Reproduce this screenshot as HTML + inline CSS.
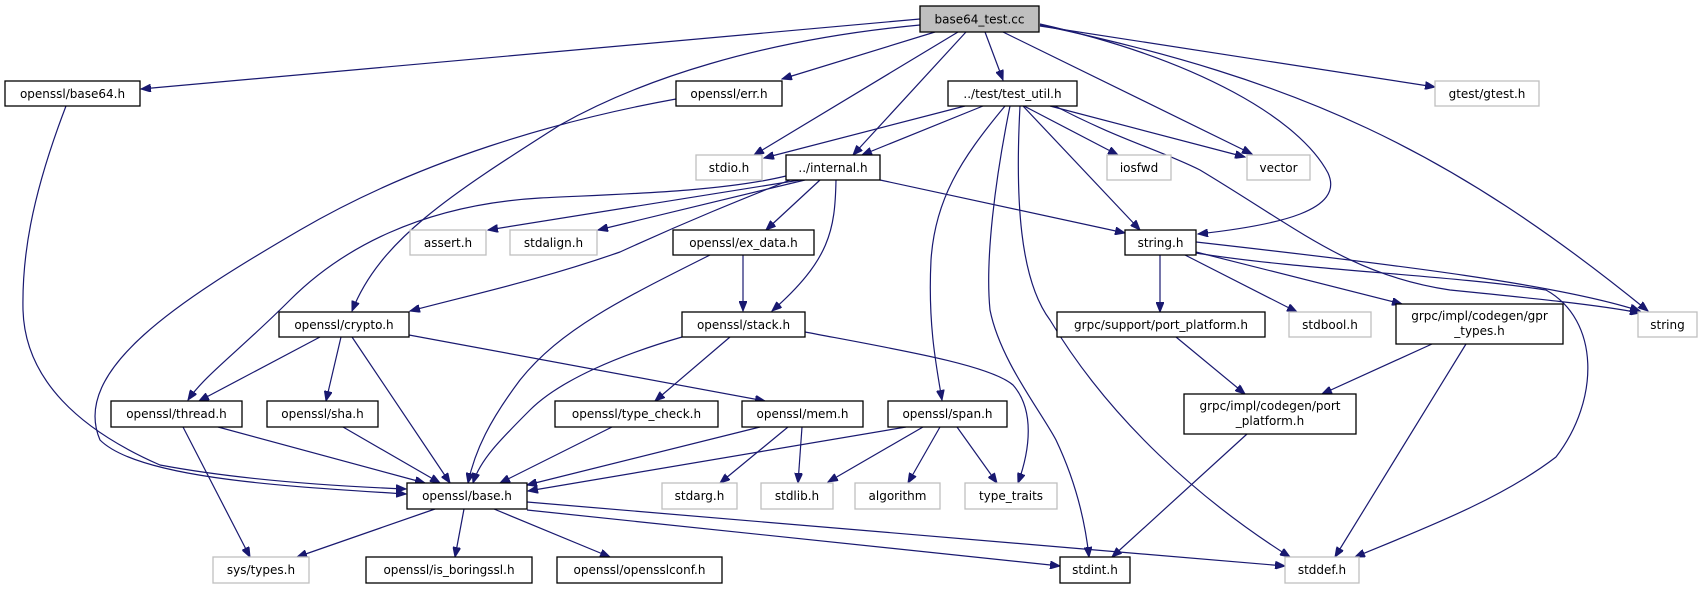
<!DOCTYPE html>
<html><head><meta charset="utf-8"><style>
html,body{margin:0;padding:0;background:#fff;}
svg{display:block;}
text{font-family:"DejaVu Sans","Liberation Sans",sans-serif;font-size:12px;fill:#000;}
.e{fill:none;stroke:#191970;stroke-width:1.2;marker-end:url(#a);}
.n{fill:#fff;stroke:#000;stroke-width:1.3;}
.g{fill:#fff;stroke:#bfbfbf;stroke-width:1.3;}
</style></head><body>
<svg width="1702" height="589" viewBox="0 0 1702 589" xmlns="http://www.w3.org/2000/svg">
<defs><marker id="a" markerWidth="11" markerHeight="8" refX="10" refY="4" orient="auto" markerUnits="userSpaceOnUse"><path d="M0,0 L10,4 L0,8 z" fill="#191970" stroke="#191970"/></marker></defs>
<path class="e" d="M920,19 L141,89"/>
<path class="e" d="M935,32 L782,79"/>
<path class="e" d="M920,25 C760,40 640,80 560,125 C450,195 380,240 352,311"/>
<path class="e" d="M958,32 L754,155"/>
<path class="e" d="M966,32 L853,155"/>
<path class="e" d="M985,32 L1003,80"/>
<path class="e" d="M1003,32 L1252,154"/>
<path class="e" d="M1040,24 C1200,60 1300,120 1328,173 C1345,210 1280,225 1198,234"/>
<path class="e" d="M1040,25 C1300,80 1450,150 1648,311"/>
<path class="e" d="M1040,26 L1435,87"/>
<path class="e" d="M965,106 L764,158"/>
<path class="e" d="M983,106 L862,155"/>
<path class="e" d="M1024,106 L1118,155"/>
<path class="e" d="M1050,106 L1245,157"/>
<path class="e" d="M1023,106 L1140,230"/>
<path class="e" d="M1055,106 C1120,140 1160,150 1200,170 C1300,230 1350,275 1450,290 C1530,298 1600,305 1640,313"/>
<path class="e" d="M1005,106 C960,160 935,200 931,260 C928,320 935,360 942,400"/>
<path class="e" d="M1010,106 C995,180 985,260 990,310 C1000,360 1040,410 1056,440 C1075,480 1085,520 1089,557"/>
<path class="e" d="M1020,106 C1015,200 1020,280 1050,320 C1110,420 1200,500 1290,557"/>
<path class="e" d="M800,180 L488,230"/>
<path class="e" d="M805,180 L598,230"/>
<path class="e" d="M820,180 L766,230"/>
<path class="e" d="M836,180 C835,230 830,260 772,311"/>
<path class="e" d="M880,180 L1125,233"/>
<path class="e" d="M790,180 C740,200 690,220 620,252 C540,280 470,295 410,311"/>
<path class="e" d="M786,176 C720,192 620,194 540,198 C420,205 340,250 290,300 C240,350 205,375 188,400"/>
<path class="e" d="M676,99 C560,120 420,160 300,230 C180,300 70,370 100,440 C140,480 300,487 406,494"/>
<path class="e" d="M66,106 C30,200 22,260 23,310 C25,380 80,430 160,465 C240,480 330,486 406,489"/>
<path class="e" d="M743,255 L743,311"/>
<path class="e" d="M710,255 C620,300 560,330 520,380 C490,420 475,450 468,483"/>
<path class="e" d="M320,337 L199,401"/>
<path class="e" d="M341,337 L326,401"/>
<path class="e" d="M352,337 L450,483"/>
<path class="e" d="M409,335 L765,401"/>
<path class="e" d="M682,337 C620,355 560,380 530,410 C500,440 480,460 473,483"/>
<path class="e" d="M730,337 L655,401"/>
<path class="e" d="M805,332 C900,350 990,365 1013,385 C1035,410 1030,450 1018,483"/>
<path class="e" d="M218,427 L425,483"/>
<path class="e" d="M183,427 L250,557"/>
<path class="e" d="M343,427 L440,483"/>
<path class="e" d="M612,427 L500,483"/>
<path class="e" d="M760,427 L527,485"/>
<path class="e" d="M788,427 L720,483"/>
<path class="e" d="M802,427 L798,483"/>
<path class="e" d="M906,427 L528,491"/>
<path class="e" d="M923,427 L828,482"/>
<path class="e" d="M940,427 L908,483"/>
<path class="e" d="M957,427 L997,483"/>
<path class="e" d="M435,509 L297,557"/>
<path class="e" d="M464,509 L455,557"/>
<path class="e" d="M494,509 L610,557"/>
<path class="e" d="M527,510 L1060,566"/>
<path class="e" d="M527,502 L1285,566"/>
<path class="e" d="M1160,255 L1160,312"/>
<path class="e" d="M1185,255 L1297,312"/>
<path class="e" d="M1196,252 L1402,304"/>
<path class="e" d="M1196,242 C1400,265 1560,285 1640,311"/>
<path class="e" d="M1196,253 C1300,270 1450,275 1546,290 C1600,320 1600,400 1556,457 C1500,500 1420,530 1355,557"/>
<path class="e" d="M1176,337 L1245,394"/>
<path class="e" d="M1432,344 L1322,394"/>
<path class="e" d="M1466,344 L1335,557"/>
<path class="e" d="M1247,434 L1112,557"/>
<g text-anchor="middle">
<rect x="920" y="6" width="119" height="26" fill="#bfbfbf" stroke="#000" stroke-width="1.3"/><text x="979.5" y="23.5">base64_test.cc</text>
<rect class="n" x="5" y="81" width="135" height="25"/><text x="72.5" y="98">openssl/base64.h</text>
<rect class="n" x="676" y="81" width="106" height="25"/><text x="729" y="98">openssl/err.h</text>
<rect class="n" x="948" y="81" width="129" height="25"/><text x="1012.5" y="98">../test/test_util.h</text>
<rect class="g" x="1435" y="81" width="104" height="25"/><text x="1487" y="98">gtest/gtest.h</text>
<rect class="g" x="696" y="155" width="66" height="25"/><text x="729" y="172">stdio.h</text>
<rect class="n" x="786" y="155" width="94" height="25"/><text x="833" y="172">../internal.h</text>
<rect class="g" x="1107" y="155" width="64" height="25"/><text x="1139" y="172">iosfwd</text>
<rect class="g" x="1247" y="155" width="63" height="25"/><text x="1278.5" y="172">vector</text>
<rect class="g" x="410" y="230" width="76" height="25"/><text x="448" y="247">assert.h</text>
<rect class="g" x="510" y="230" width="87" height="25"/><text x="553.5" y="247">stdalign.h</text>
<rect class="n" x="673" y="230" width="141" height="25"/><text x="743.5" y="247">openssl/ex_data.h</text>
<rect class="n" x="1125" y="230" width="71" height="25"/><text x="1160.5" y="247">string.h</text>
<rect class="n" x="279" y="312" width="130" height="25"/><text x="344" y="329">openssl/crypto.h</text>
<rect class="n" x="682" y="312" width="123" height="25"/><text x="743.5" y="329">openssl/stack.h</text>
<rect class="n" x="1057" y="312" width="208" height="25"/><text x="1161" y="329">grpc/support/port_platform.h</text>
<rect class="g" x="1289" y="312" width="82" height="25"/><text x="1330" y="329">stdbool.h</text>
<rect class="n" x="1396" y="304" width="167" height="40"/><text x="1479.5" y="320">grpc/impl/codegen/gpr</text><text x="1479.5" y="335">_types.h</text>
<rect class="g" x="1638" y="312" width="59" height="25"/><text x="1667.5" y="329">string</text>
<rect class="n" x="111" y="401" width="131" height="26"/><text x="176.5" y="418">openssl/thread.h</text>
<rect class="n" x="267" y="401" width="111" height="26"/><text x="322.5" y="418">openssl/sha.h</text>
<rect class="n" x="555" y="401" width="163" height="26"/><text x="636.5" y="418">openssl/type_check.h</text>
<rect class="n" x="742" y="401" width="121" height="26"/><text x="802.5" y="418">openssl/mem.h</text>
<rect class="n" x="888" y="401" width="119" height="26"/><text x="947.5" y="418">openssl/span.h</text>
<rect class="n" x="1184" y="394" width="172" height="40"/><text x="1270" y="410">grpc/impl/codegen/port</text><text x="1270" y="425">_platform.h</text>
<rect class="n" x="407" y="483" width="120" height="26"/><text x="467" y="500">openssl/base.h</text>
<rect class="g" x="662" y="483" width="75" height="26"/><text x="699.5" y="500">stdarg.h</text>
<rect class="g" x="761" y="483" width="72" height="26"/><text x="797" y="500">stdlib.h</text>
<rect class="g" x="855" y="483" width="85" height="26"/><text x="897.5" y="500">algorithm</text>
<rect class="g" x="965" y="483" width="92" height="26"/><text x="1011" y="500">type_traits</text>
<rect class="g" x="213" y="557" width="96" height="26"/><text x="261" y="574">sys/types.h</text>
<rect class="n" x="366" y="557" width="166" height="26"/><text x="449" y="574">openssl/is_boringssl.h</text>
<rect class="n" x="557" y="557" width="165" height="26"/><text x="639.5" y="574">openssl/opensslconf.h</text>
<rect class="n" x="1060" y="557" width="70" height="26"/><text x="1095" y="574">stdint.h</text>
<rect class="g" x="1285" y="557" width="74" height="26"/><text x="1322" y="574">stddef.h</text>
</g>
</svg>
</body></html>
